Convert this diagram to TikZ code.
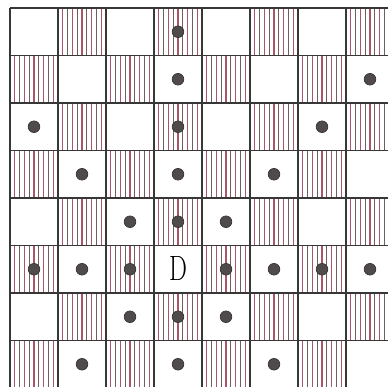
\documentclass[tikz,border=0pt]{standalone}
\usetikzlibrary{positioning}
\definecolor{hatchred}{RGB}{170,86,104}
\definecolor{hatchgray}{RGB}{105,96,98}
\definecolor{gridgray}{RGB}{55,55,55}
\definecolor{dotgray}{RGB}{80,74,74}

\begin{document}
\begin{tikzpicture}[x=0.025cm, y=-0.025cm,
    hatch/.style={line width=0.9pt},
    gridline/.style={gridgray, line width=1.2pt},
    movedot/.style={circle, fill=dotgray, draw=gridgray, line width=0.5pt, minimum size=0.29cm, inner sep=0pt}]
  \useasboundingbox (0,0) rectangle (388,387);
  \clip (0,0) rectangle (388,387);

  % hatched (dark) squares
  \foreach \r in {1,...,8} {
    \foreach \c in {1,...,8} {
      \pgfmathtruncatemacro{\odd}{mod(\r+\c,2)}
      \ifnum\odd=1
        \pgfmathsetmacro{\xo}{10+48*(\c-1)}
        \pgfmathsetmacro{\yo}{8+47.5*(\r-1)}
        \foreach \k in {1,3,5,7,9}
          \draw[hatch, hatchred] ({\xo+4.8*\k},\yo) -- ++(0,47.5);
        \foreach \k in {2,4,6,8}
          \draw[hatch, hatchgray] ({\xo+4.8*\k},\yo) -- ++(0,47.5);
      \fi
    }
  }

  % board lines
  \foreach \i in {0,...,8} {
    \draw[gridline] ({10+48*\i},8) -- ({10+48*\i},390);
    \draw[gridline] (10,{8+47.5*\i}) -- (390,{8+47.5*\i});
  }
  \draw[gridgray, line width=1.6pt] (10,8) -- (10,390);

  % the piece
  \node[font=\fontsize{25}{25}\selectfont, inner sep=0pt] (queen) at (178,268.5) {\scalebox{0.72}[1]{D}};

  % squares it reaches
  \foreach \r/\c in {1/4, 2/4, 2/8, 3/1, 3/4, 3/7, 4/2, 4/4, 4/6, 5/3, 5/4, 5/5,
                     6/1, 6/2, 6/3, 6/5, 6/6, 6/7, 6/8, 7/3, 7/4, 7/5, 8/2, 8/4, 8/6}
    \node[movedot] (sq\r\c) at ({34+48*(\c-1)},{31.75+47.5*(\r-1)}) {};
\end{tikzpicture}
\end{document}
